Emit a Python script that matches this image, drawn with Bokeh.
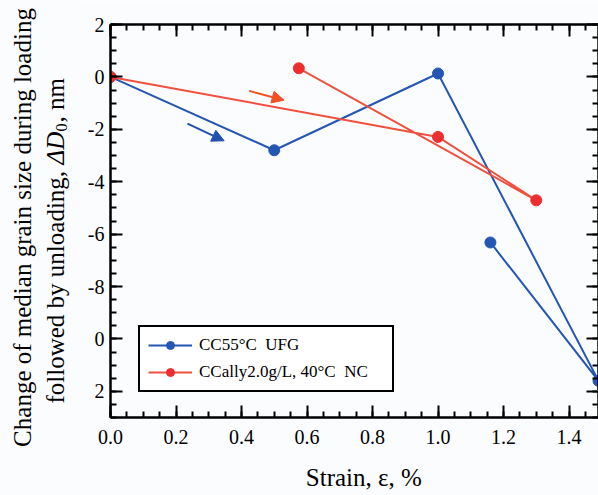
import math
from bokeh.plotting import figure
from bokeh.layouts import row, column
from bokeh.models import (Range1d, LinearAxis, FixedTicker, Label, Arrow,
                          NormalHead, Legend, LegendItem)
from bokeh.embed import file_html
from bokeh.resources import INLINE

# ---- data ----
blue_x = [0.0, 0.5, 1.0, 1.49, 1.16]
blue_y = [0.0, -2.80, 0.13, -11.6, -6.32]
red_x = [0.0, 1.0, 1.3, 0.575]
red_y = [0.0, -2.29, -4.71, 0.33]

blue_label = "CC55°C  UFG"
red_label = "CCally2.0g/L, 40°C  NC"

x_ticks = [0.0, 0.2, 0.4, 0.6, 0.8, 1.0, 1.2, 1.4]
x_tick_labels = ["0.0", "0.2", "0.4", "0.6", "0.8", "1.0", "1.2", "1.4"]
y_ticks = [2, 0, -2, -4, -6, -8, -10, -12]
y_tick_labels = ["2", "0", "-2", "-4", "-6", "-8", "0", "2"]

x_title = "\u00a0\u00a0\u00a0Strain, ε, %"

# arrows (start x, start y, end x, end y)
blue_arrow = (0.235, -1.78, 0.347, -2.44)
red_arrow = (0.4235, -0.534, 0.530, -0.889)

FONT = "Liberation Serif"
BLUE = "#2456b3"
RED_LINE = "#f0503e"
RED_MARK = "#ee2e2e"
BG = "#fbfcfe"

TOTAL_W = 598
TOTAL_H = 495
YT_W = 78
MAIN_W = TOTAL_W - YT_W

# ---- main plot ----
p = figure(width=MAIN_W, height=TOTAL_H, output_backend="svg", toolbar_location=None,
           x_range=Range1d(0, 1.49), y_range=Range1d(-13, 2),
           min_border_left=32, min_border_right=0, min_border_top=24,
           min_border_bottom=78)
p.background_fill_color = BG
p.border_fill_color = BG
p.outline_line_color = None
p.xgrid.visible = False
p.ygrid.visible = False

x_minor = [i * 0.05 for i in range(31)]
y_minor = [2 - i * 0.5 for i in range(31)]


def style_axis(ax, ticks, minor, labels=None, show_labels=True):
    ax.ticker = FixedTicker(ticks=ticks, minor_ticks=minor)
    ax.axis_line_color = "black"
    ax.axis_line_width = 2.5
    ax.major_tick_line_color = "black"
    ax.major_tick_line_width = 2
    ax.minor_tick_line_color = "black"
    ax.minor_tick_line_width = 2
    ax.major_tick_in = 12
    ax.major_tick_out = 0
    ax.minor_tick_in = 6
    ax.minor_tick_out = 0
    ax.axis_label = None
    if show_labels:
        ax.major_label_text_font = FONT
        ax.major_label_text_font_size = "20px"
        ax.major_label_text_color = "black"
        if labels is not None:
            ax.major_label_overrides = {t: l for t, l in zip(ticks, labels)}
    else:
        ax.major_label_text_font_size = "0px"
        ax.major_label_text_color = None
        ax.major_label_standoff = 0


xa = p.xaxis[0]
style_axis(xa, x_ticks, x_minor, x_tick_labels)
xa.major_label_standoff = 12
xa.axis_label = x_title
xa.axis_label_text_font = FONT
xa.axis_label_text_font_size = "25px"
xa.axis_label_text_font_style = "normal"
xa.axis_label_text_color = "black"
xa.axis_label_standoff = 17

style_axis(p.yaxis[0], y_ticks, y_minor, y_tick_labels)
p.yaxis[0].major_label_standoff = 6

top_ax = LinearAxis()
style_axis(top_ax, x_ticks, x_minor, show_labels=False)
p.add_layout(top_ax, "above")
right_ax = LinearAxis()
style_axis(right_ax, y_ticks, y_minor, show_labels=False)
p.add_layout(right_ax, "right")

# ---- series ----
bl = p.line(blue_x, blue_y, line_color=BLUE, line_width=2)
bm = p.scatter(blue_x, blue_y, size=11, fill_color=BLUE, line_color=BLUE)
rl = p.line(red_x, red_y, line_color=RED_LINE, line_width=2)
rm = p.scatter(red_x, red_y, size=11, fill_color=RED_MARK, line_color=RED_MARK)

# ---- arrows ----
for (xs, ys, xe, ye), c in [(blue_arrow, "#2050b0"), (red_arrow, "#f05022")]:
    p.add_layout(Arrow(x_start=xs, y_start=ys, x_end=xe, y_end=ye,
                       line_color=c, line_width=2,
                       end=NormalHead(size=12, fill_color=c, line_color=c)))

# ---- legend ----
legend = Legend(items=[LegendItem(label=blue_label, renderers=[bl, bm]),
                       LegendItem(label=red_label, renderers=[rl, rm])],
                location=(28, 25), orientation="vertical")
legend.label_text_font = FONT
legend.label_text_font_size = "17px"
legend.label_text_color = "black"
legend.glyph_width = 44
legend.glyph_height = 20
legend.label_height = 20
legend.label_width = 185
legend.label_standoff = 7
legend.padding = 8
legend.spacing = 7
legend.margin = 0
legend.border_line_color = "black"
legend.border_line_alpha = 1.0
legend.border_line_width = 2
legend.background_fill_color = "white"
legend.background_fill_alpha = 1
p.add_layout(legend, "center")

# ---- y-axis title panel ----
yt = figure(width=YT_W, height=TOTAL_H, output_backend="svg", toolbar_location=None,
            x_range=Range1d(0, YT_W), y_range=Range1d(0, TOTAL_H),
            x_axis_type=None, y_axis_type=None,
            min_border=0, min_border_left=0, min_border_right=0,
            min_border_top=0, min_border_bottom=0)
yt.grid.visible = False
yt.outline_line_color = None
yt.background_fill_color = BG
yt.border_fill_color = BG


def lab(fig, text, x, y, size, angle=0.0, align="left", baseline="middle", style="normal"):
    fig.add_layout(Label(x=x, y=y, text=text, angle=angle, text_font=FONT,
                         text_font_size=size, text_font_style=style,
                         text_align=align, text_baseline=baseline,
                         text_color="black"))


A = math.pi / 2
lab(yt, "Change of median grain size during loading", 22, 268, "25px", A, "center")
lab(yt, "followed by unloading,", 55, 92, "25px", A, "left")
lab(yt, "ΔD", 55, 331, "25px", A, "left", style="italic")
lab(yt, "0", 61, 364, "16px", A, "left")
lab(yt, ", nm", 55, 373, "25px", A, "left")

# nest the main plot so its frame is not aligned with the title panel
layout = row(yt, column(p, spacing=0), spacing=0)

html = file_html(layout, INLINE)
open("out.html", "w").write(html)
